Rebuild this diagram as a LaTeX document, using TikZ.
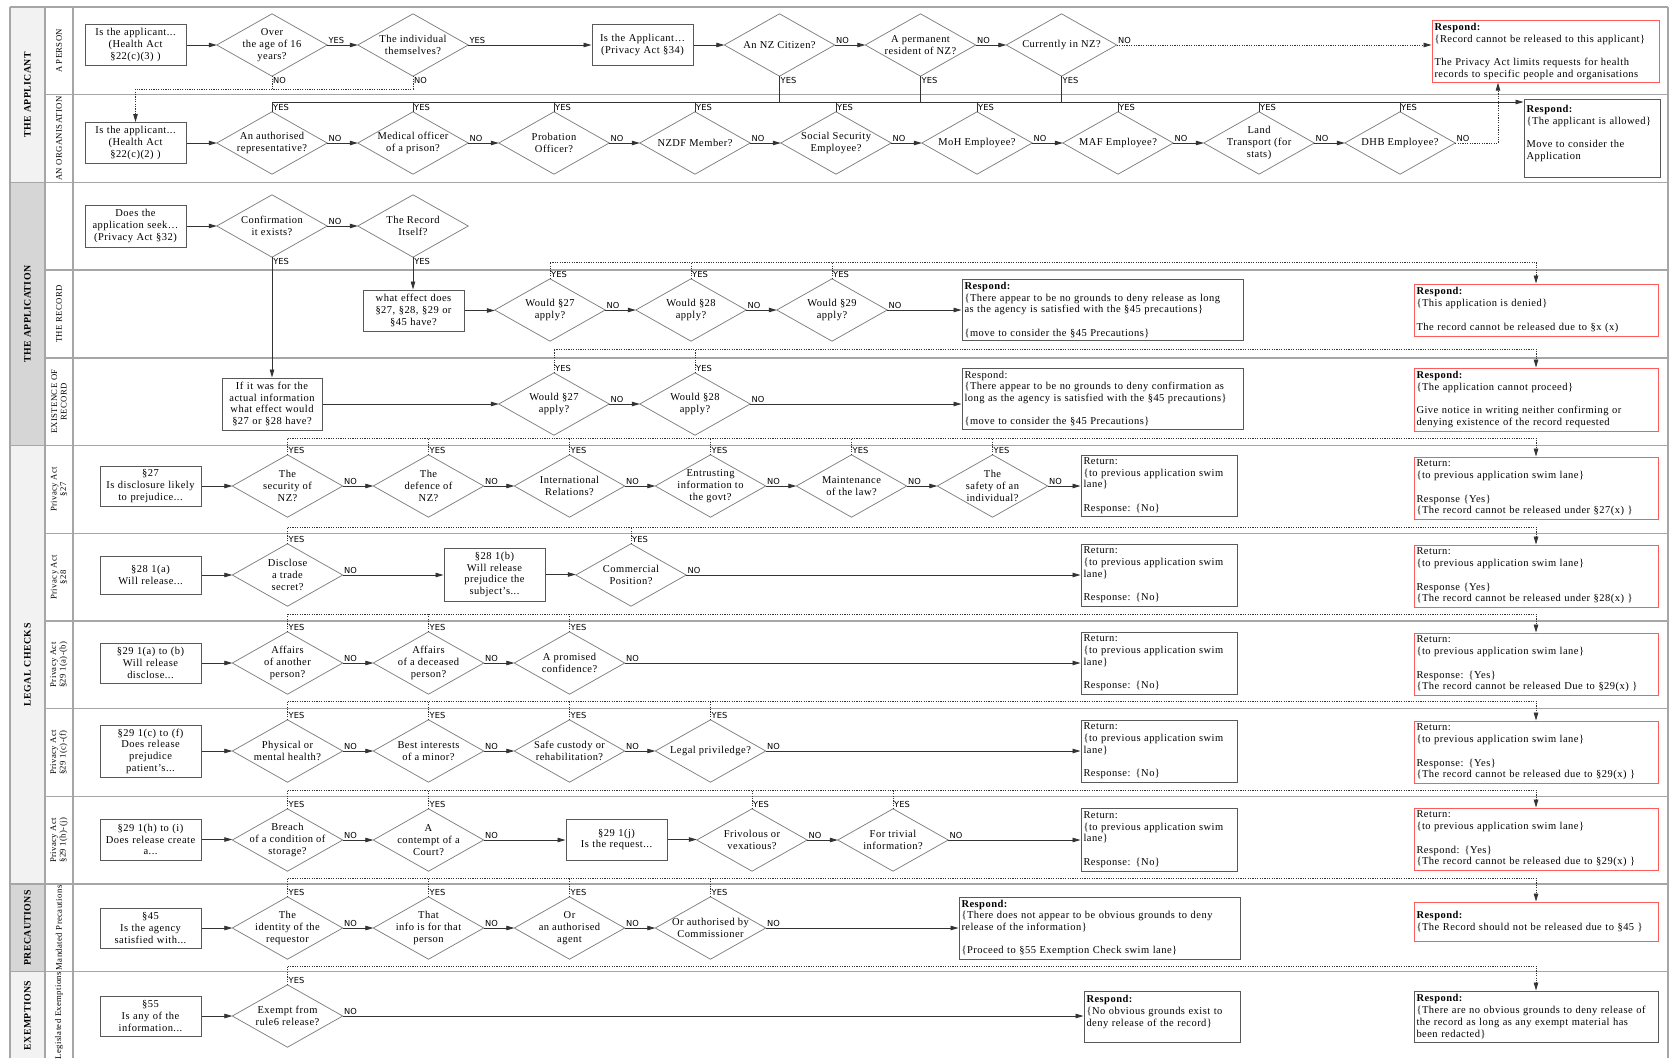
\documentclass[tikz,border=0pt]{standalone}
\usepackage{fontspec}
\setmainfont{Liberation Serif}[LetterSpace=4.5]
\newfontfamily\ynfam{DejaVu Sans}
\usetikzlibrary{arrows.meta,calc}
\definecolor{lanegray}{HTML}{A6A6A6}
\definecolor{grpA}{HTML}{F2F2F2}
\definecolor{grpB}{HTML}{D6D6D6}
\definecolor{boxline}{HTML}{595959}
\definecolor{dialine}{HTML}{7F7F7F}
\definecolor{conn}{HTML}{333333}
\definecolor{redline}{HTML}{FF5B5B}
\newcommand\mytxt{\fontsize{10.5}{11.7}\selectfont}
\newcommand\myyn{\ynfam\fontsize{8.3}{9}\selectfont}
\newcommand\mylane{\fontsize{8.7}{9.5}\selectfont}
\newcommand\mygrp{\bfseries\fontsize{9.8}{11}\selectfont}
\newcommand\mybox[7]{%
  \pgfmathsetmacro\rbw{#4-#2}\pgfmathsetmacro\rbh{#5-#3}%
  \pgfmathsetmacro\rbcx{(#2+#4)/2}\pgfmathsetmacro\rbcy{(#3+#5)/2}%
  \pgfmathsetmacro\rbtw{#4-#2-5}%
  \node[#6, minimum width=\rbw pt, minimum height=\rbh pt, text width=\rbtw pt] (#1) at (\rbcx,\rbcy) {#7};}
\newcommand\mydia[4]{\node[dia] (#1) at (#2,#3) {#4};
  \draw[diaedge] (#1.west) -- (#1.north) -- (#1.east) -- (#1.south) -- cycle;}
\newcommand\hc[3]{\draw[flow] (#1.east) -- node[yn,pos=0,anchor=south west]{#3} (#2.west |- #1.east);}
\newcommand\yesdots[4]{\coordinate (tmpY) at (0,#2);
  \foreach \nn in {#1}{\draw[dline] (\nn.north) -- (\nn.north |- tmpY);
    \node[yn,anchor=south west] at (\nn.north) {YES};}
  \draw[dflow] (#4.north |- tmpY) -- (#3.north |- tmpY) -- (#3.north);}
\begin{document}
\begin{tikzpicture}[x=1pt,y=-1pt,
  dia/.style={rectangle, minimum width=110pt, minimum height=62pt, inner sep=0pt, align=center, font=\mytxt},
  diaedge/.style={draw=dialine, line width=0.75pt},
  qbox/.style={draw=boxline, line width=1pt, fill=white, align=center, inner sep=2pt, font=\mytxt},
  resp/.style={draw=boxline, line width=1pt, fill=white, align=left, inner sep=2.5pt, font=\mytxt},
  redresp/.style={resp, draw=redline, line width=0.9pt},
  flow/.style={draw=conn, line width=0.8pt, -{Triangle[length=8pt,width=4.5pt]}},
  dflow/.style={flow, dash pattern=on 1.2pt off 1.2pt},
  dline/.style={draw=conn, line width=0.8pt, dash pattern=on 1.2pt off 1.2pt},
  sline/.style={draw=conn, line width=0.8pt},
  yn/.style={font=\myyn, inner sep=1pt, text=black},
  laneln/.style={draw=lanegray, line width=1.4pt},
  sublbl/.style={rotate=90, font=\mylane, align=center},
  grplbl/.style={rotate=90, font=\mygrp, align=center}]
\useasboundingbox (0,0) rectangle (1673,1058);
% ---------- swim lanes ----------
\fill[grpA] (10,7) rectangle (45,182.4);
\fill[grpB] (10,182.4) rectangle (45,445.5);
\fill[grpA] (10,445.5) rectangle (45,884);
\fill[grpB] (10,884) rectangle (45,971.7);
\fill[grpA] (10,971.7) rectangle (45,1058);
\foreach \k in {1,3,4,6,7,8,9} {\draw[laneln] (45,{7+87.7*\k}) -- (1668,{7+87.7*\k});}
\foreach \k in {0,2,5,10,11} {\draw[laneln] (10,{7+87.7*\k}) -- (1668,{7+87.7*\k});}
\foreach \xx in {10,45,73,1668} {\draw[laneln] (\xx,7) -- (\xx,1058);}
\node[grplbl] (g1) at (27.5,94.7) {THE APPLICANT};
\node[grplbl] (g2) at (27.5,314) {THE APPLICATION};
\node[grplbl] (g3) at (27.5,664.8) {LEGAL CHECKS};
\node[grplbl] (g4) at (27.5,927.9) {PRECAUTIONS};
\node[grplbl] (g5) at (27.5,1015.5) {EXEMPTIONS};
\node[sublbl] (s0) at (59,50.9) {A PERSON};
\node[sublbl] (s1) at (59,138.6) {AN ORGANISATION};
\node[sublbl] (s3) at (59,314) {THE RECORD};
\node[sublbl] (s4) at (59,401.7) {EXISTENCE OF\\RECORD};
\node[sublbl] (s5) at (59,489.4) {Privacy Act\\§27};
\node[sublbl] (s6) at (59,577.1) {Privacy Act\\§28};
\node[sublbl] (s7) at (59,664.8) {Privacy Act\\§29 1(a)-(b)};
\node[sublbl] (s8) at (59,752.5) {Privacy Act\\§29 1(c)-(f)};
\node[sublbl] (s9) at (59,840.2) {Privacy Act\\§29 1(h)-(j)};
\node[sublbl] (s10) at (59,927.9) {Mandated Precautions};
\node[sublbl] (s11) at (59,1015.6) {Legislated Exemptions};
% ---------- a person ----------
\mybox{pb1}{85}{24.5}{186}{65.5}{qbox}{Is the applicant...\\(Health Act\\§22(c)(3) )}
\mydia{pd1}{272}{45}{Over\\the age of 16\\years?}
\mydia{pd2}{413}{45}{The individual\\themselves?}
\mybox{pb2}{592}{24.5}{693}{65.5}{qbox}{Is the Applicant…\\(Privacy Act §34)}
\mydia{pd3}{779.5}{45}{An NZ Citizen?}
\mydia{pd4}{920.5}{45}{A permanent\\resident of NZ?}
\mydia{pd5}{1061.5}{45}{Currently in NZ?}
\mybox{pr1}{1432}{21}{1659}{82}{redresp}{\textbf{Respond:}\\\{Record cannot be released to this applicant\}\\[11.7pt]The Privacy Act limits requests for health\\records to specific people and organisations}
% ---------- an organisation ----------
\mybox{ob}{85}{122.5}{186}{163.5}{qbox}{Is the applicant...\\(Health Act\\§22(c)(2) )}
\mydia{od1}{272}{143}{An authorised\\representative?}
\mydia{od2}{413}{143}{Medical officer\\of a prison?}
\mydia{od3}{554}{143}{Probation\\Officer?}
\mydia{od4}{695}{143}{NZDF Member?}
\mydia{od5}{836}{143}{Social Security\\Employee?}
\mydia{od6}{977}{143}{MoH Employee?}
\mydia{od7}{1118}{143}{MAF Employee?}
\mydia{od8}{1259}{143}{Land\\Transport (for\\stats)}
\mydia{od9}{1400}{143}{DHB Employee?}
\mybox{ra}{1524}{99}{1660}{177}{resp}{\textbf{Respond:}\\\{The applicant is allowed\}\\[11.7pt]Move to consider the\\Application\\ \mbox{}}
% ---------- application ----------
\mybox{ab}{85}{205}{186}{247}{qbox}{Does the\\application seek…\\(Privacy Act §32)}
\mydia{a1}{272}{226}{Confirmation\\it exists?}
\mydia{a2}{413}{226}{The Record\\Itself?}
% ---------- the record ----------
\mybox{rb}{363}{290}{464}{331}{qbox}{what effect does\\§27, §28, §29 or\\§45 have?}
\mydia{rd1}{550}{310}{Would §27\\apply?}
\mydia{rd2}{691}{310}{Would §28\\apply?}
\mydia{rd3}{832}{310}{Would §29\\apply?}
\mybox{rresp}{962}{280}{1243}{340}{resp}{\textbf{Respond:}\\\{There appear to be no grounds to deny release as long\\as the agency is satisfied with the §45 precautions\}\\[11.7pt]\{move to consider the §45 Precautions\}}
\mybox{rred}{1414}{284}{1658}{336}{redresp}{\textbf{Respond:}\\\{This application is denied\}\\[11.7pt]The record cannot be released due to §x (x)}
% ---------- existence ----------
\mybox{eb}{222}{378}{322}{430}{qbox}{If it was for the\\actual information\\what effect would\\§27 or §28 have?}
\mydia{ed1}{554}{404}{Would §27\\apply?}
\mydia{ed2}{695}{404}{Would §28\\apply?}
\mybox{eresp}{962}{368}{1243}{429}{resp}{Respond:\\\{There appear to be no grounds to deny confirmation as\\long as the agency is satisfied with the §45 precautions\}\\[11.7pt]\{move to consider the §45 Precautions\}}
\mybox{ered}{1414}{368}{1658}{431}{redresp}{\textbf{Respond:}\\\{The application cannot proceed\}\\[11.7pt]Give notice in writing neither confirming or\\denying existence of the record requested}
% ---------- s27 ----------
\mybox{l5b}{100}{466}{201}{506}{qbox}{§27\\Is disclosure likely\\to prejudice...}
\mydia{l5d1}{287.5}{486}{The\\security of\\NZ?}
\mydia{l5d2}{428.5}{486}{The\\defence of\\NZ?}
\mydia{l5d3}{569.5}{486}{International\\Relations?}
\mydia{l5d4}{710.5}{486}{Entrusting\\information to\\the govt?}
\mydia{l5d5}{851.5}{486}{Maintenance\\of the law?}
\mydia{l5d6}{992.5}{486}{The\\safety of an\\individual?}
\mybox{l5ret}{1081}{455}{1237}{516}{resp}{Return:\\\{to previous application swim\\lane\}\\[11.7pt]Response: \{No\}}
\mybox{l5red}{1414}{457}{1658}{519}{redresp}{Return:\\\{to previous application swim lane\}\\[11.7pt]Response \{Yes\}\\\{The record cannot be released under §27(x) \}}
% ---------- s28 ----------
\mybox{l6b}{100}{556}{201}{594}{qbox}{§28 1(a)\\Will release...}
\mydia{l6d1}{287.5}{575}{Disclose\\a trade\\secret?}
\mybox{l6b2}{444}{548}{545}{601}{qbox}{§28 1(b)\\Will release\\prejudice the\\subject's...}
\mydia{l6d2}{631}{575}{Commercial\\Position?}
\mybox{l6ret}{1081}{544}{1237}{606}{resp}{Return:\\\{to previous application swim\\lane\}\\[11.7pt]Response: \{No\}}
\mybox{l6red}{1414}{545}{1658}{607}{redresp}{Return:\\\{to previous application swim lane\}\\[11.7pt]Response \{Yes\}\\\{The record cannot be released under §28(x) \}}
% ---------- s29 a-b ----------
\mybox{l7b}{100}{643}{201}{683}{qbox}{§29 1(a) to (b)\\Will release\\disclose...}
\mydia{l7d1}{287.5}{663}{Affairs\\of another\\person?}
\mydia{l7d2}{428.5}{663}{Affairs\\of a deceased\\person?}
\mydia{l7d3}{569.5}{663}{A promised\\confidence?}
\mybox{l7ret}{1081}{632}{1237}{694}{resp}{Return:\\\{to previous application swim\\lane\}\\[11.7pt]Response: \{No\}}
\mybox{l7red}{1414}{633}{1658}{695}{redresp}{Return:\\\{to previous application swim lane\}\\[11.7pt]Response: \{Yes\}\\\{The record cannot be released Due to §29(x) \}}
% ---------- s29 c-f ----------
\mybox{l8b}{100}{725}{201}{777}{qbox}{§29 1(c) to (f)\\Does release\\prejudice\\patient's...}
\mydia{l8d1}{287.5}{751}{Physical or\\mental health?}
\mydia{l8d2}{428.5}{751}{Best interests\\of a minor?}
\mydia{l8d3}{569.5}{751}{Safe custody or\\rehabilitation?}
\mydia{l8d4}{710.5}{751}{Legal priviledge?}
\mybox{l8ret}{1081}{720}{1237}{782}{resp}{Return:\\\{to previous application swim\\lane\}\\[11.7pt]Response: \{No\}}
\mybox{l8red}{1414}{721}{1658}{783}{redresp}{Return:\\\{to previous application swim lane\}\\[11.7pt]Response: \{Yes\}\\\{The record cannot be released due to §29(x) \}}
% ---------- s29 h-j ----------
\mybox{l9b}{100}{819}{201}{860}{qbox}{§29 1(h) to (i)\\Does release create\\a...}
\mydia{l9d1}{287.5}{840}{Breach\\of a condition of\\storage?}
\mydia{l9d2}{428.5}{840}{A\\contempt of a\\Court?}
\mybox{l9b2}{566}{819}{667}{860}{qbox}{§29 1(j)\\Is the request...}
\mydia{l9d3}{752}{840}{Frivolous or\\vexatious?}
\mydia{l9d4}{893}{840}{For trivial\\information?}
\mybox{l9ret}{1081}{808}{1237}{871}{resp}{Return:\\\{to previous application swim\\lane\}\\[11.7pt]Response: \{No\}}
\mybox{l9red}{1414}{808}{1658}{870}{redresp}{Return:\\\{to previous application swim lane\}\\[11.7pt]Respond: \{Yes\}\\\{The record cannot be released due to §29(x) \}}
% ---------- precautions ----------
\mybox{pcb}{100}{908}{201}{948}{qbox}{§45\\Is the agency\\satisfied with...}
\mydia{pcd1}{287.5}{928}{The\\identity of the\\requestor}
\mydia{pcd2}{428.5}{928}{That\\info is for that\\person}
\mydia{pcd3}{569.5}{928}{Or\\an authorised\\agent}
\mydia{pcd4}{710.5}{928}{Or authorised by\\Commissioner}
\mybox{pcresp}{959}{897}{1240}{959}{resp}{\textbf{Respond:}\\\{There does not appear to be obvious grounds to deny\\release of the information\}\\[11.7pt]\{Proceed to §55 Exemption Check swim lane\}}
\mybox{pcred}{1414}{902}{1658}{941}{redresp}{\textbf{Respond:}\\\{The Record should not be released due to §45 \}}
% ---------- exemptions ----------
\mybox{exb}{100}{996}{201}{1036}{qbox}{§55\\Is any of the\\information...}
\mydia{exd1}{287.5}{1016}{Exempt from\\rule6 release?}
\mybox{exresp}{1084}{991}{1240}{1042}{resp}{\textbf{Respond:}\\\{No obvious grounds exist to\\deny release of the record\}\\ \mbox{}}
\mybox{exright}{1414}{991}{1658}{1042}{resp}{\textbf{Respond:}\\\{There are no obvious grounds to deny release of\\the record as long as any exempt material has\\been redacted\}}
% ================= connectors =================
\coordinate (c89) at (0,89);
\coordinate (c102) at (0,102);
\coordinate (dhbx) at (1498,0);
% person
\hc{pb1}{pd1}{}
\hc{pd1}{pd2}{YES}
\hc{pd2}{pb2}{YES}
\hc{pb2}{pd3}{}
\hc{pd3}{pd4}{NO}
\hc{pd4}{pd5}{NO}
\draw[dflow] (pd5.east) -- node[yn,pos=0,anchor=south west]{NO} (pr1.west |- pd5.east);
\draw[dline] (pd1.south) -- (pd1.south |- c89);
\draw[dflow] (pd2.south) |- (ob.north |- c89) -- (ob.north);
\node[yn,anchor=north west] (n1) at (pd1.south) {NO};
\node[yn,anchor=north west] (n2) at (pd2.south) {NO};
\foreach \d in {pd3,pd4,pd5} {\draw[sline] (\d.south) -- (\d.south |- c102);
  \node[yn,anchor=north west] at (\d.south) {YES};}
% organisation
\hc{ob}{od1}{}
\hc{od1}{od2}{NO}
\hc{od2}{od3}{NO}
\hc{od3}{od4}{NO}
\hc{od4}{od5}{NO}
\hc{od5}{od6}{NO}
\hc{od6}{od7}{NO}
\hc{od7}{od8}{NO}
\hc{od8}{od9}{NO}
\draw[dflow] (od9.east) -| node[yn,pos=0,anchor=south west]{NO} (dhbx |- pr1.south);
\draw[flow] (od1.north) |- (ra.west |- c102);
\foreach \d in {od1,od2,od3,od4,od5,od6,od7,od8,od9} {\draw[sline] (\d.north) -- (\d.north |- c102);
  \node[yn,anchor=south west] at (\d.north) {YES};}
% application
\hc{ab}{a1}{}
\hc{a1}{a2}{NO}
\draw[flow] (a1.south) -- node[yn,pos=0,anchor=north west]{YES} (a1.south |- eb.north);
\draw[flow] (a2.south) -- node[yn,pos=0,anchor=north west]{YES} (a2.south |- rb.north);
% record
\hc{rb}{rd1}{}
\hc{rd1}{rd2}{NO}
\hc{rd2}{rd3}{NO}
\hc{rd3}{rresp}{NO}
\yesdots{rd1,rd2,rd3}{262}{rred}{rd1}
% existence
\hc{eb}{ed1}{}
\hc{ed1}{ed2}{NO}
\hc{ed2}{eresp}{NO}
\yesdots{ed1,ed2}{349}{ered}{ed1}
% s27
\hc{l5b}{l5d1}{}
\hc{l5d1}{l5d2}{NO}
\hc{l5d2}{l5d3}{NO}
\hc{l5d3}{l5d4}{NO}
\hc{l5d4}{l5d5}{NO}
\hc{l5d5}{l5d6}{NO}
\hc{l5d6}{l5ret}{NO}
\yesdots{l5d1,l5d2,l5d3,l5d4,l5d5,l5d6}{438}{l5red}{l5d1}
% s28
\hc{l6b}{l6d1}{}
\hc{l6d1}{l6b2}{NO}
\hc{l6b2}{l6d2}{}
\hc{l6d2}{l6ret}{NO}
\yesdots{l6d1,l6d2}{527}{l6red}{l6d1}
% s29 a-b
\hc{l7b}{l7d1}{}
\hc{l7d1}{l7d2}{NO}
\hc{l7d2}{l7d3}{NO}
\hc{l7d3}{l7ret}{NO}
\yesdots{l7d1,l7d2,l7d3}{614}{l7red}{l7d1}
% s29 c-f
\hc{l8b}{l8d1}{}
\hc{l8d1}{l8d2}{NO}
\hc{l8d2}{l8d3}{NO}
\hc{l8d3}{l8d4}{NO}
\hc{l8d4}{l8ret}{NO}
\yesdots{l8d1,l8d2,l8d3,l8d4}{701}{l8red}{l8d1}
% s29 h-j
\hc{l9b}{l9d1}{}
\hc{l9d1}{l9d2}{NO}
\hc{l9d2}{l9b2}{NO}
\hc{l9b2}{l9d3}{}
\hc{l9d3}{l9d4}{NO}
\hc{l9d4}{l9ret}{NO}
\yesdots{l9d1,l9d2,l9d3,l9d4}{790}{l9red}{l9d1}
% precautions
\hc{pcb}{pcd1}{}
\hc{pcd1}{pcd2}{NO}
\hc{pcd2}{pcd3}{NO}
\hc{pcd3}{pcd4}{NO}
\hc{pcd4}{pcresp}{NO}
\yesdots{pcd1,pcd2,pcd3,pcd4}{878}{pcred}{pcd1}
% exemptions
\hc{exb}{exd1}{}
\hc{exd1}{exresp}{NO}
\yesdots{exd1}{966}{exright}{exd1}
\end{tikzpicture}
\end{document}
